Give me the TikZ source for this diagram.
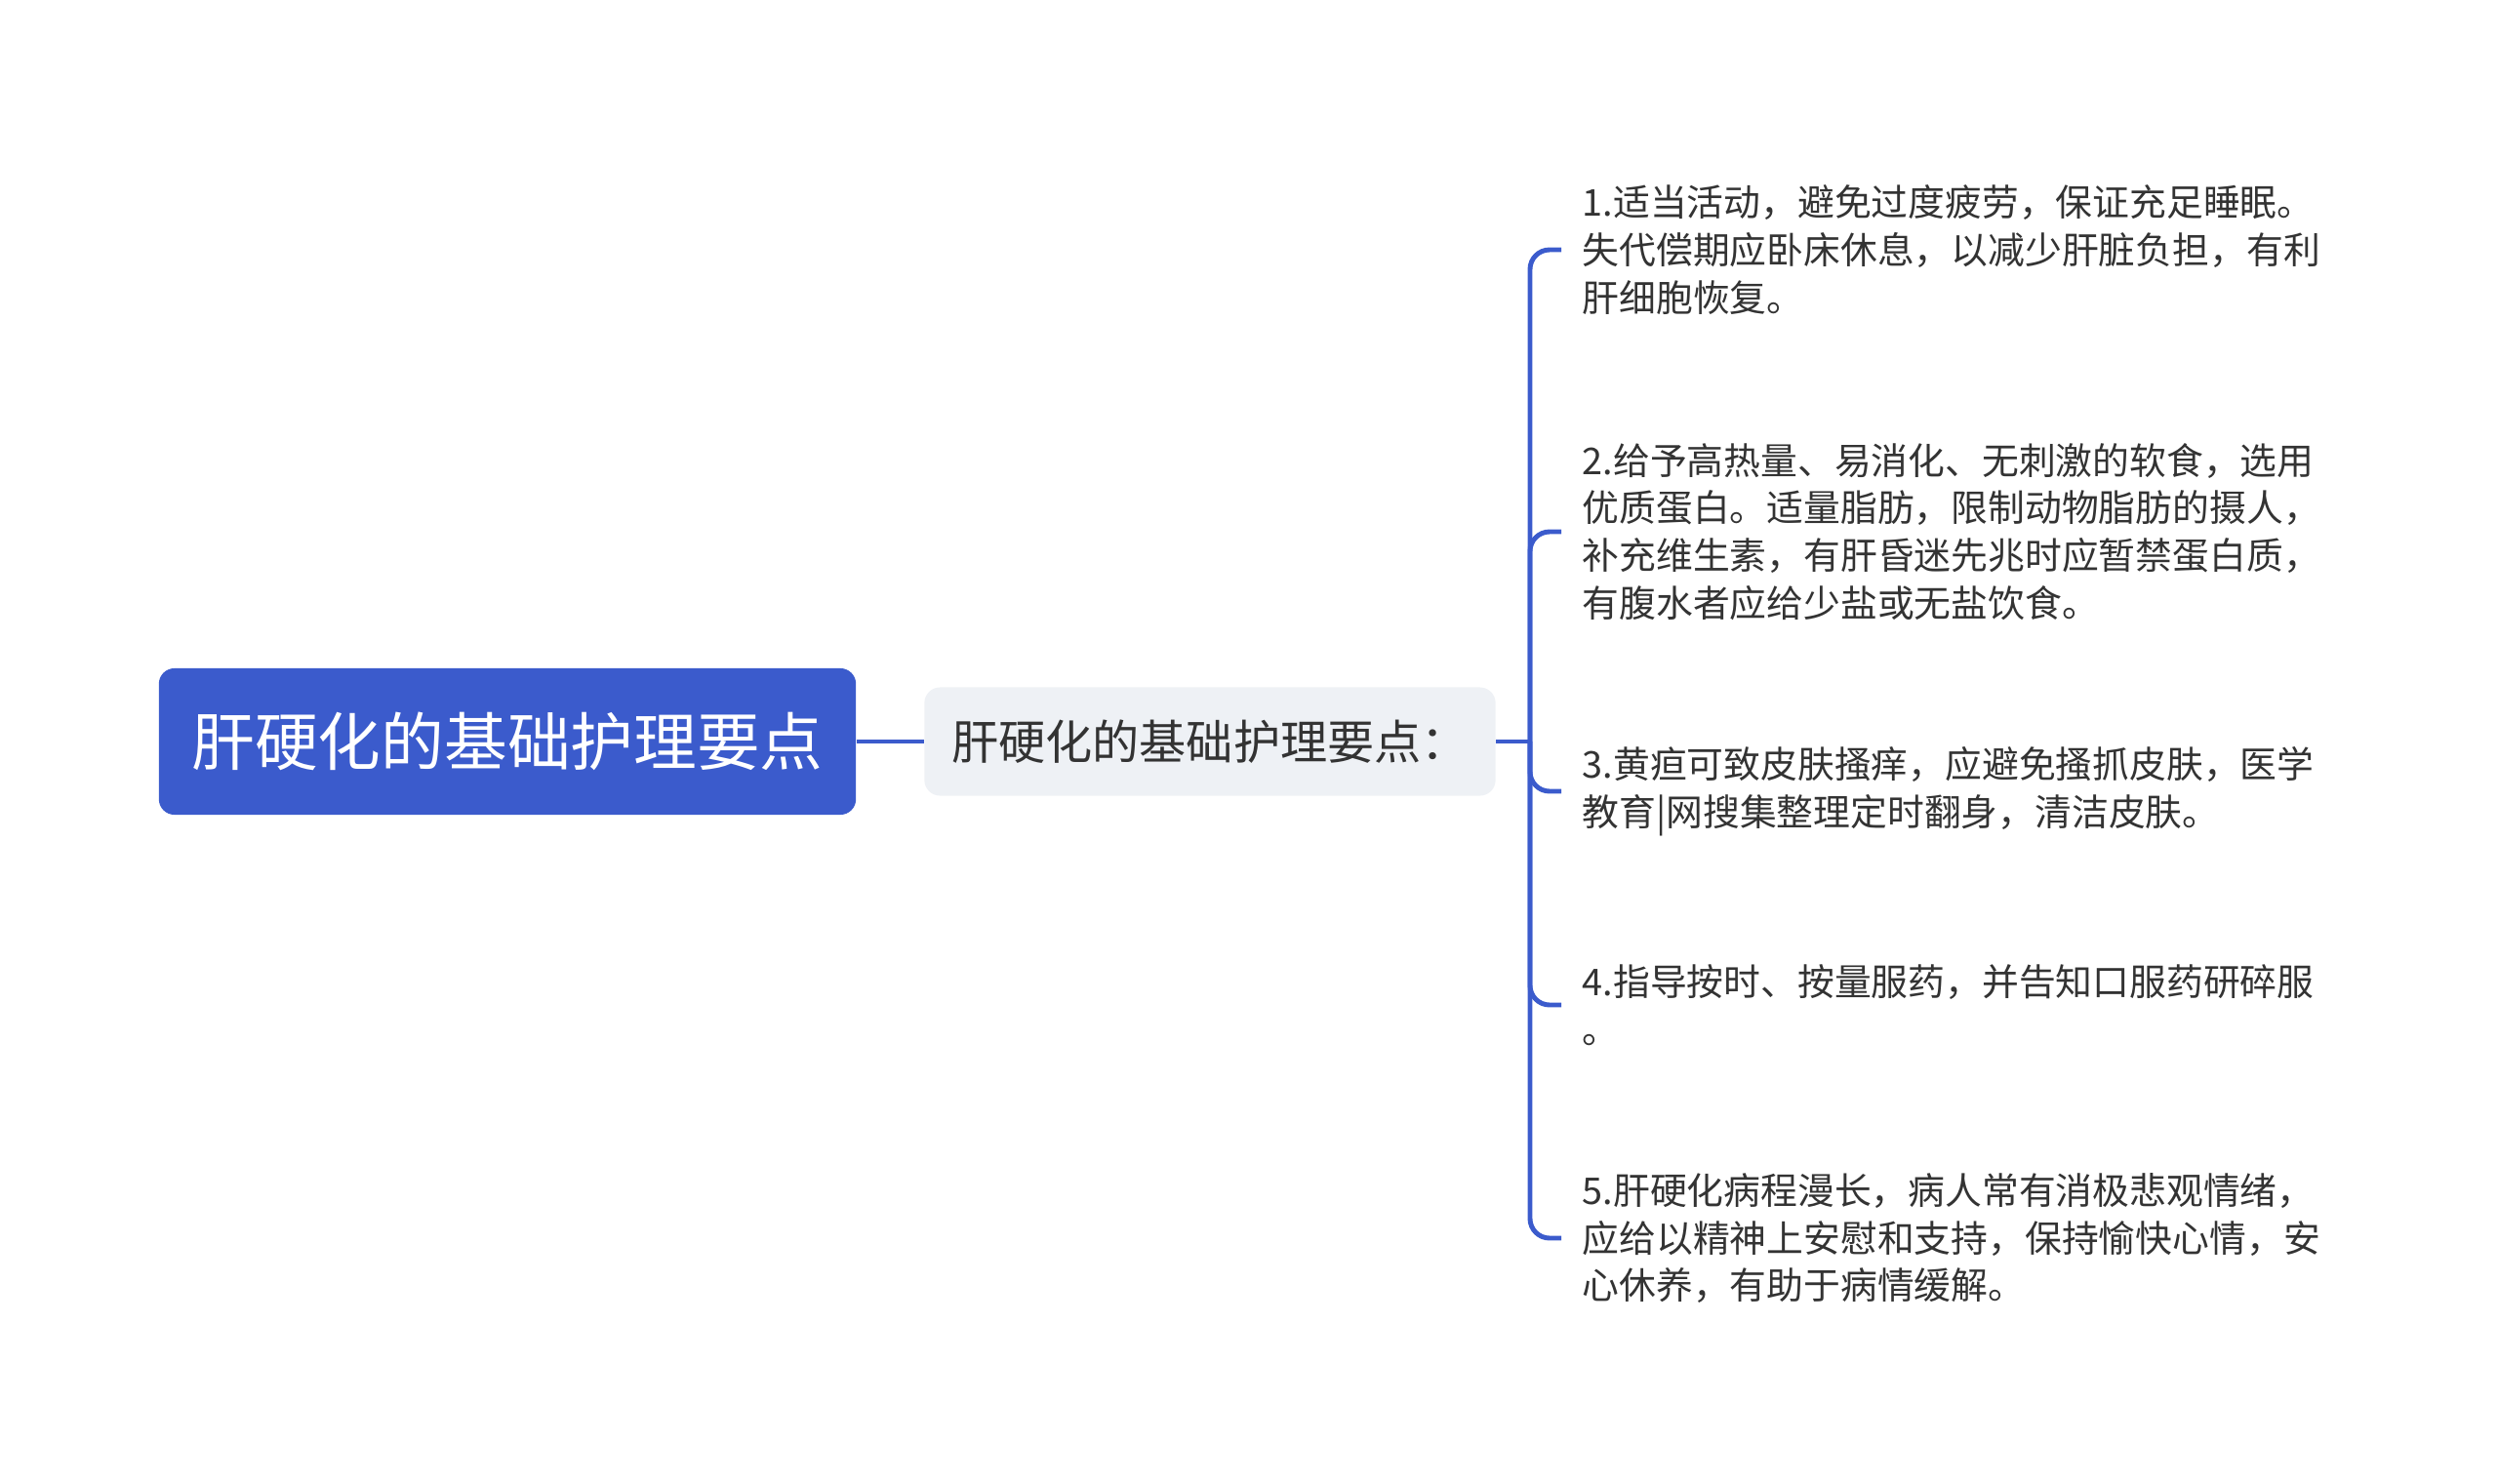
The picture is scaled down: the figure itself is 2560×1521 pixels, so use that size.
\documentclass[tikz,border=0pt]{standalone}
\usepackage{fontspec}
\setmainfont{Noto Sans CJK SC}
\usepackage{tikz}
\pgfdeclarelayer{bg}
\pgfsetlayers{bg,main}
\definecolor{rootblue}{HTML}{3B5BCC}
\definecolor{midgray}{HTML}{EEF1F5}
\definecolor{textdark}{HTML}{333333}

\begin{document}
\begin{tikzpicture}[x=0.01cm,y=-0.01cm,
        rootbox/.style={fill=rootblue, rounded corners=0.16cm, minimum width=7.14cm,
                minimum height=1.5cm, text=white, font=\fontsize{18.4}{22}\selectfont},
        midbox/.style={fill=midgray, rounded corners=0.16cm, minimum width=5.85cm,
                minimum height=1.11cm, text=textdark, font=\fontsize{13.7}{16}\selectfont},
        leaf/.style={anchor=west, align=left, inner xsep=0.21cm, inner ysep=0pt,
                text=textdark, font=\fontsize{10.75}{13.9}\selectfont},
        link/.style={draw=rootblue, line width=1.4pt, rounded corners=0.2cm}]
        \useasboundingbox (0,0) rectangle (2560,1521);
        \node (r0) [rootbox] at (520, 760) {肝硬化的基础护理要点};
        \node (m0) [midbox] at (1240, 760) {肝硬化的基础护理要点：};
        \coordinate (j) at (1568, 760);
        \node (b1) [leaf] at (1600, 256) {1.适当活动，避免过度疲劳，保证充足睡眠。\\
失代偿期应卧床休息，以减少肝脏负担，有利\\
肝细胞恢复。};
        \node (b2) [leaf] at (1600, 545) {2.给予高热量、易消化、无刺激的软食，选用\\
优质蛋白。适量脂肪，限制动物脂肪的摄人，\\
补充维生素，有肝昏迷先兆时应暂禁蛋白质，\\
有腹水者应给少盐或无盐饮食。};
        \node (b3) [leaf] at (1600, 811) {3.黄疸可致皮肤搔痒，应避免搔抓皮肤，医学\\
教育|网搜集整理定时翻身，清洁皮肤。};
        \node (b4) [leaf] at (1600, 1030) {4.指导按时、按量服药，并告知口服药研碎服\\
。};
        \node (b5) [leaf] at (1600, 1269) {5.肝硬化病程漫长，病人常有消极悲观情绪，\\
应给以精神上安慰和支持，保持愉快心情，安\\
心休养，有助于病情缓解。};
        \begin{pgfonlayer}{bg}
                \draw [link] (r0.east) -- (m0.west);
                \draw [link] (m0.east) -- (j);
                \draw [link] (j) |- (b1.west);
                \draw [link] (j) |- (b2.west);
                \draw [link] (j) |- (b3.west);
                \draw [link] (j) |- (b4.west);
                \draw [link] (j) |- (b5.west);
        \end{pgfonlayer}
\end{tikzpicture}
\end{document}
